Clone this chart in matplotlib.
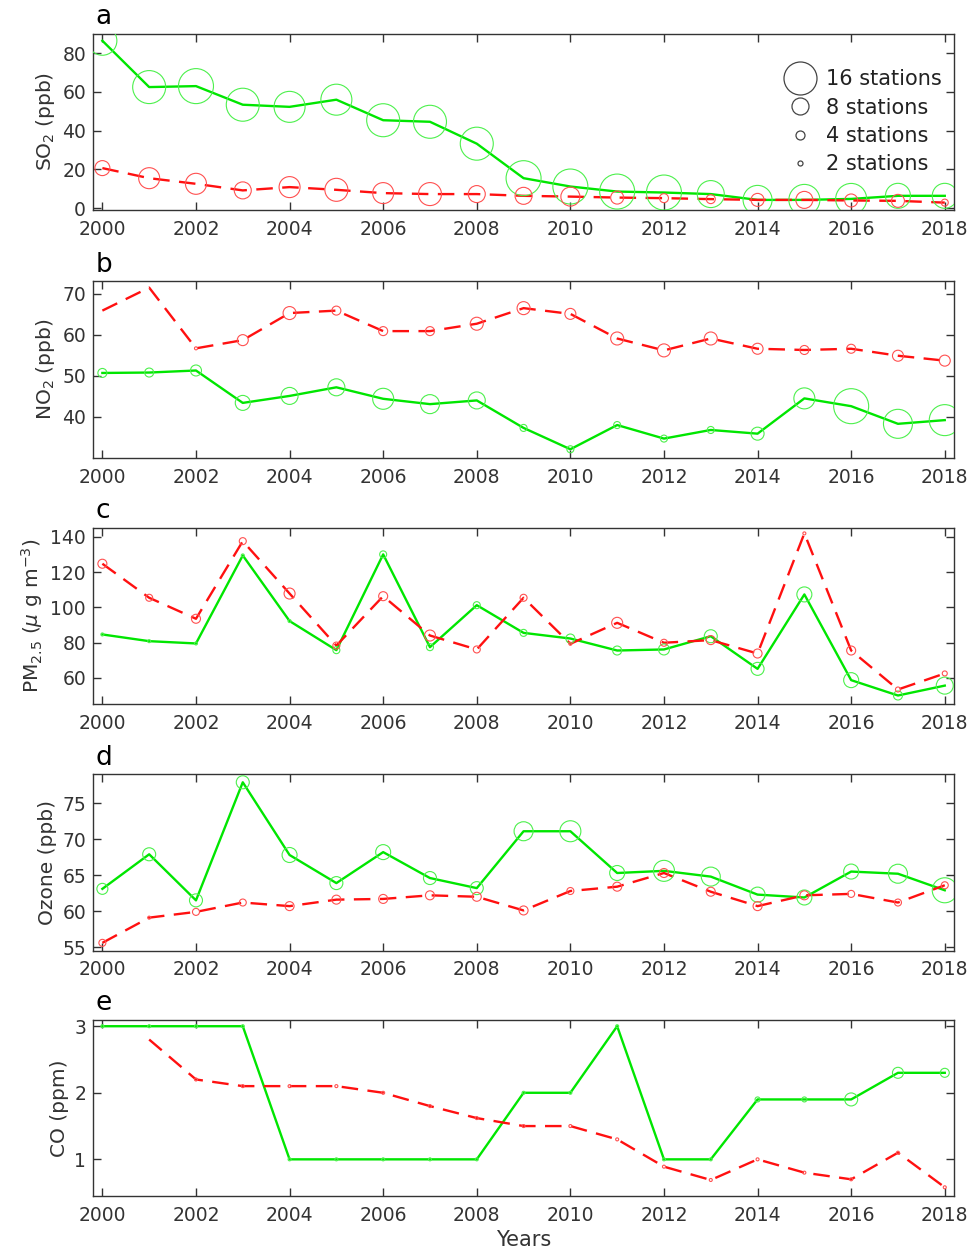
import numpy as np
import matplotlib
matplotlib.use('Agg')
import matplotlib.pyplot as plt
from matplotlib.lines import Line2D

# data (NaN = no value)
years = list(range(2000, 2019))

so2_green = [86.4, 62.5, 63.0, 53.4, 52.3, 56.0, 45.4, 44.6, 33.3, 15.5, 11.2, 8.6, 8.1, 7.3, 4.3, 4.3, 4.8, 6.4, 6.4]
so2_red = [20.7, 15.5, 12.6, 9.2, 10.9, 9.5, 7.8, 7.3, 7.3, 6.4, 6.0, 5.5, 5.2, 4.7, 4.3, 4.3, 4.0, 3.8, 2.9]
so2_green_n = [14, 16, 17, 16, 15, 15, 16, 16, 16, 17, 17, 17, 17, 13, 14, 15, 15, 12, 12]
so2_red_n = [7, 10, 10, 8, 10, 11, 10, 11, 8, 8, 9, 6, 4, 4, 6, 8, 6, 6, 3]

no2_green = [50.7, 50.8, 51.3, 43.4, 45.1, 47.2, 44.4, 43.1, 44.0, 37.3, 32.1, 38.0, 34.7, 36.8, 35.9, 44.5, 42.6, 38.3, 39.2]
no2_red = [65.9, 71.5, 56.7, 58.7, 65.3, 65.9, 60.9, 60.9, 62.7, 66.5, 65.1, 59.1, 56.2, 59.1, 56.6, 56.3, 56.6, 54.9, 53.7]
no2_green_n = [4, 4, 5, 7, 8, 8, 10, 9, 8, 3, 3, 3, 3, 3, 6, 10, 17, 14, 15]
no2_red_n = [0, 0, 1, 5, 6, 4, 4, 4, 6, 6, 5, 6, 6, 6, 5, 4, 4, 5, 5]

pm_green = [84.6, 80.8, 79.5, 129.4, 92.2, 75.7, 130.0, 77.4, 101.2, 85.5, 82.3, 75.5, 76.1, 83.6, 65.1, 107.3, 58.7, 50.0, 55.6]
pm_red = [124.7, 105.4, 93.5, 137.5, 107.8, 78.3, 106.3, 84.0, 76.1, 105.4, 79.3, 91.2, 79.9, 81.4, 73.8, 141.9, 75.5, 53.4, 62.5]
pm_green_n = [1, 1, 1, 1, 1, 3, 3, 3, 3, 3, 4, 4, 5, 6, 6, 7, 7, 4, 8]
pm_red_n = [4, 3, 4, 3, 5, 3, 4, 5, 3, 3, 1, 5, 3, 4, 4, 1, 4, 2, 2]

o3_green = [63.1, 67.9, 61.5, 77.9, 67.8, 63.9, 68.2, 64.6, 63.2, 71.1, 71.1, 65.3, 65.6, 64.8, 62.3, 61.9, 65.5, 65.2, 62.9]
o3_red = [55.6, 59.1, 59.9, 61.2, 60.7, 61.6, 61.7, 62.2, 62.0, 60.1, 62.8, 63.4, 65.3, 62.7, 60.7, 62.2, 62.4, 61.2, 63.6]
o3_green_n = [5, 6, 6, 6, 7, 6, 7, 6, 6, 9, 10, 7, 10, 9, 7, 7, 7, 9, 12]
o3_red_n = [3, 1, 3, 3, 4, 4, 4, 4, 4, 4, 3, 4, 4, 4, 4, 4, 3, 3, 3]

co_green = [3.0, 3.0, 3.0, 3.0, 1.0, 1.0, 1.0, 1.0, 1.0, 2.0, 2.0, 3.0, 1.0, 1.0, 1.9, 1.9, 1.9, 2.3, 2.3]
co_red = [np.nan, 2.8, 2.2, 2.1, 2.1, 2.1, 2.0, 1.8, 1.62, 1.5, 1.5, 1.3, 0.89, 0.69, 1.0, 0.8, 0.7, 1.1, 0.58]
co_green_n = [1, 1, 1, 1, 1, 1, 1, 1, 1, 1, 1, 1, 1, 1, 2, 2, 6, 5, 4]
co_red_n = [0, 0, 1, 1, 1, 1, 1, 1, 1, 1, 1, 1, 1, 1, 1, 1, 1, 1, 1]

legend_n = [16, 8, 4, 2]

panels = [
    ('a', so2_green, so2_red, so2_green_n, so2_red_n, 'SO$_2$ (ppb)', (-1, 90), [0, 20, 40, 60, 80]),
    ('b', no2_green, no2_red, no2_green_n, no2_red_n, 'NO$_2$ (ppb)', (30, 73), [40, 50, 60, 70]),
    ('c', pm_green, pm_red, pm_green_n, pm_red_n, r'PM$_{2.5}$ ($\mu$ g m$^{-3}$)', (45, 145), [60, 80, 100, 120, 140]),
    ('d', o3_green, o3_red, o3_green_n, o3_red_n, 'Ozone (ppb)', (54.5, 79), [55, 60, 65, 70, 75]),
    ('e', co_green, co_red, co_green_n, co_red_n, 'CO (ppm)', (0.45, 3.1), [1, 2, 3]),
]

green_line = '#00e600'
green_mark = '#4cf04c'
red_line = '#ff1010'
red_mark = '#ff5050'
text_col = '#333333'


def diam_pt(n):
    # circle diameter grows with the number of stations
    return (2 * n + 1) * 72 / 100 if n > 0 else 0


def sizes(counts):
    return [diam_pt(n) ** 2 for n in counts]


fig = plt.figure(figsize=(9.73, 12.51), dpi=100)
bottoms = [0.832, 0.634, 0.437, 0.240, 0.044]

for (letter, g, r, gn, rn, ylabel, ylim, yticks), b in zip(panels, bottoms):
    ax = fig.add_axes([0.0956, b, 0.885, 0.141])
    ax.plot(years, g, color=green_line, lw=1.7, zorder=3)
    ax.plot(years, r, color=red_line, lw=1.7, dashes=(7, 4), zorder=3)
    ax.scatter(years, g, s=sizes(gn), facecolors='none', edgecolors=green_mark, linewidths=0.8, zorder=4)
    ax.scatter(years, r, s=sizes(rn), facecolors='none', edgecolors=red_mark, linewidths=0.8, zorder=4)

    ax.set_xlim(1999.8, 2018.2)
    ax.set_ylim(*ylim)
    ax.set_xticks(range(2000, 2019, 2))
    ax.set_yticks(yticks)
    ax.tick_params(direction='in', top=True, right=True, length=6, width=1,
                   labelsize=13.5, colors=text_col, pad=5)
    ax.tick_params(axis='x', pad=7)
    for sp in ax.spines.values():
        sp.set_color(text_col)
        sp.set_linewidth(1.0)
    ax.set_ylabel(ylabel, fontsize=14.5, color=text_col, labelpad=4)
    ax.text(0.003, 1.02, letter, transform=ax.transAxes, fontsize=19,
            ha='left', va='bottom', color='black')

    if letter == 'a':
        handles = [Line2D([], [], marker='o', ls='none', markerfacecolor='none',
                          markeredgecolor='#444444', markeredgewidth=0.9,
                          markersize=diam_pt(n)) for n in legend_n]
        labels = [f'{n} stations' for n in legend_n]
        ax.legend(handles, labels, loc='upper right', frameon=False, fontsize=15,
                  labelcolor='#222222', handletextpad=0.25, labelspacing=0.4,
                  borderaxespad=0.2, bbox_to_anchor=(1.0, 0.87))
    if letter == 'e':
        ax.set_xlabel('Years', fontsize=15, color=text_col, labelpad=4)

plt.savefig('out.png', dpi=100)
